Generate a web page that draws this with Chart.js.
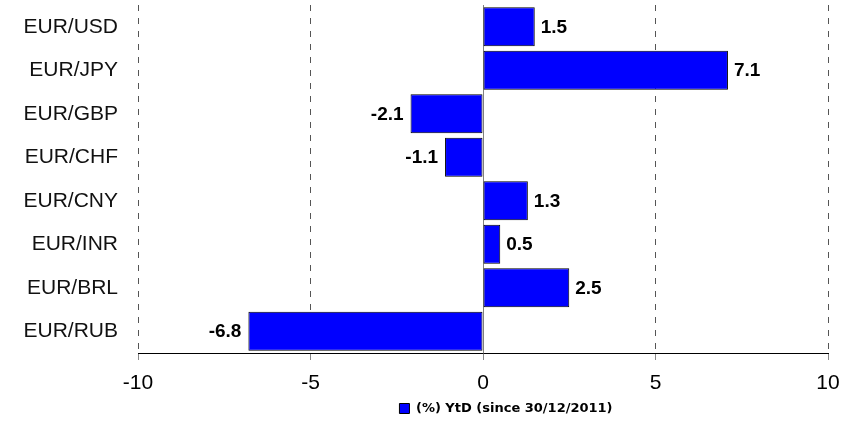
<!DOCTYPE html>
<html>
<head>
<meta charset="utf-8">
<script src="https://cdn.jsdelivr.net/npm/chart.js@4/dist/chart.umd.min.js"></script>
<style>
  html, body { margin: 0; padding: 0; background: #fff; }
  #wrap { width: 846px; height: 425px; }
</style>
</head>
<body>
<div id="wrap"><canvas id="myChart" width="846" height="425"></canvas></div>
<script>
// currency pairs and year-to-date change in %
const pairs = ["EUR/USD", "EUR/JPY", "EUR/GBP", "EUR/CHF", "EUR/CNY", "EUR/INR", "EUR/BRL", "EUR/RUB"];
const ytdChange = [1.5, 7.1, -2.1, -1.1, 1.3, 0.5, 2.5, -6.8];
const seriesName = "(%) YtD (since 30/12/2011)";
const xTicks = [-10, -5, 0, 5, 10];

const labelFont = "'Liberation Sans', Arial, sans-serif";

// solid line through zero, under the bars
const zeroLine = {
  id: "zeroLine",
  beforeDatasetsDraw(chart) {
    const { ctx, chartArea, scales } = chart;
    const x = Math.round(scales.x.getPixelForValue(0)) + 0.5;
    ctx.save();
    ctx.strokeStyle = "#808080";
    ctx.lineWidth = 1;
    ctx.beginPath();
    ctx.moveTo(x, chartArea.top);
    ctx.lineTo(x, chartArea.bottom);
    ctx.stroke();
    ctx.restore();
  },
};

// value next to the end of each bar
const barValues = {
  id: "barValues",
  afterDatasetsDraw(chart) {
    const { ctx } = chart;
    const meta = chart.getDatasetMeta(0);
    ctx.save();
    ctx.font = "bold 19px " + labelFont;
    ctx.fillStyle = "#000";
    ctx.textBaseline = "middle";
    meta.data.forEach((bar, i) => {
      const v = ytdChange[i];
      if (v >= 0) {
        ctx.textAlign = "left";
        ctx.fillText(v.toFixed(1), bar.x + 6, bar.y + 1);
      } else {
        ctx.textAlign = "right";
        ctx.fillText(v.toFixed(1), bar.x - 7, bar.y + 1);
      }
    });
    ctx.restore();
  },
};

// move the legend right, so it sits under the plot
const legendShift = {
  id: "legendShift",
  afterLayout(chart) {
    chart.legend.left += 92;
    chart.legend.right += 92;
  },
};

const config = {
  type: "bar",
  data: {
    labels: pairs,
    datasets: [
      {
        label: seriesName,
        data: ytdChange,
        backgroundColor: "#0000FF",
        borderColor: "#000",
        borderWidth: 1,
        borderSkipped: false,
        barPercentage: 0.9,
        categoryPercentage: 1,
      },
    ],
  },
  options: {
    indexAxis: "y",
    responsive: false,
    animation: false,
    layout: { padding: { top: 5, right: 18, left: 0, bottom: 0 } },
    scales: {
      x: {
        min: -10,
        max: 10,
        afterBuildTicks: (scale) => {
          scale.ticks = xTicks.map((v) => ({ value: v }));
        },
        afterFit: (scale) => {
          scale.height = 41;
          scale.paddingLeft = 0;
          scale.paddingRight = 0;
        },
        grid: {
          color: (c) => (c.tick && c.tick.value === 0 ? "rgba(0,0,0,0)" : "#555"),
          tickColor: "#888",
          tickLength: 7,
          lineWidth: 1,
        },
        border: { display: true, color: "#000", width: 1, dash: [6, 7] },
        ticks: {
          color: "#000",
          padding: 11,
          font: { family: labelFont, size: 21 },
        },
      },
      y: {
        afterFit: (scale) => {
          scale.width = 138;
          scale.paddingTop = 0;
          scale.paddingBottom = 0;
        },
        grid: { display: false, drawTicks: false },
        border: { display: false },
        ticks: {
          color: "#111",
          padding: 20,
          font: { family: labelFont, size: 21 },
        },
      },
    },
    plugins: {
      legend: {
        position: "bottom",
        labels: {
          boxWidth: 10,
          boxHeight: 10,
          padding: 8,
          color: "#000",
          font: { family: "'DejaVu Sans', sans-serif", size: 13, weight: "bold" },
        },
      },
      tooltip: { enabled: false },
    },
  },
  plugins: [zeroLine, barValues, legendShift],
};

const myChart = new Chart(document.getElementById("myChart"), config);
</script>
</body>
</html>
